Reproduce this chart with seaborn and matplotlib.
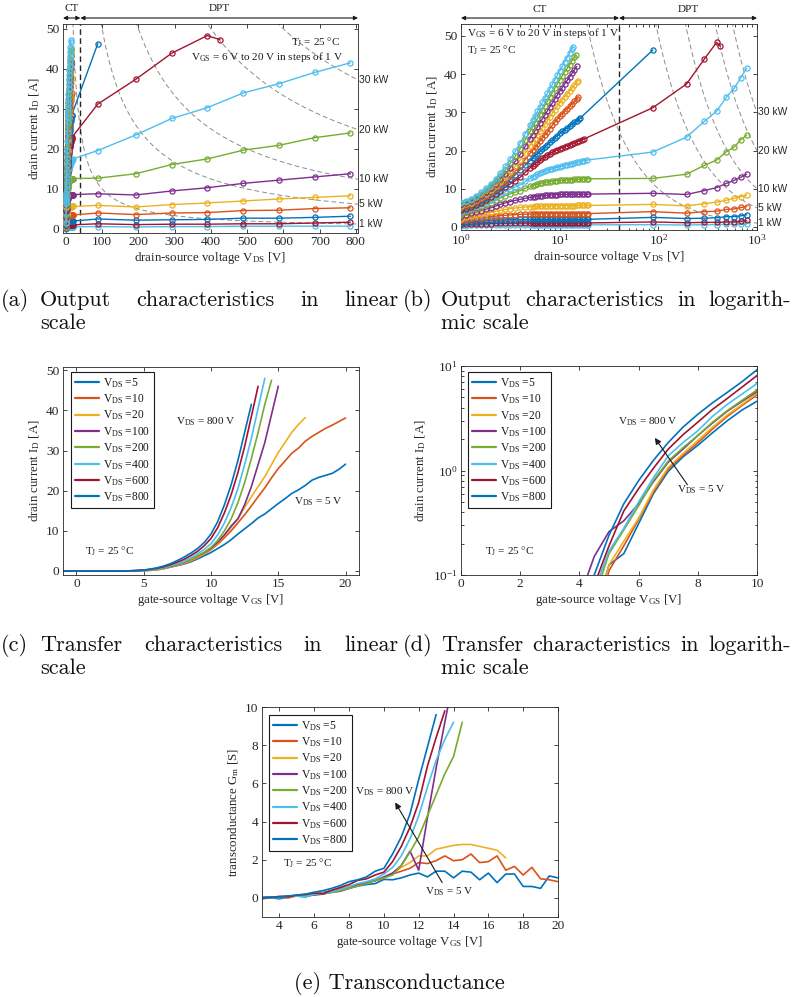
import numpy as np
import pandas as pd
import matplotlib
matplotlib.use("Agg")
import matplotlib.pyplot as plt
import matplotlib.transforms as mtransforms
from matplotlib.lines import Line2D
from matplotlib.ticker import MultipleLocator, LogLocator, NullFormatter, FixedLocator
import seaborn as sns

# MATLAB default colour order
BLUE, ORANGE, YELLOW, PURPLE, GREEN, CYAN, RED = (
    "#0072BD", "#D95319", "#EDB120", "#7E2F8E", "#77AC30", "#4DBEEE", "#A2142F")

# ---------------- output characteristics ----------------
vgs_levels = [6, 7, 8, 9, 10, 11, 12, 13, 14, 15, 16, 17, 18, 19, 20]
vgs_colors = [CYAN, RED, BLUE, ORANGE, YELLOW, PURPLE, GREEN,
              CYAN, RED, BLUE, ORANGE, YELLOW, PURPLE, GREEN, CYAN]

# curve-tracer (CT) sweep points in V; the last point of every curve is its own end voltage
ct_vds_grid = [0.2, 1.0, 1.12, 1.26, 1.41, 1.58, 1.78, 2.0, 2.24, 2.51, 2.82, 3.16, 3.55,
               3.98, 4.47, 5.01, 5.31, 5.62, 5.96, 6.31, 6.68, 7.08, 7.5, 7.94, 8.41, 8.91,
               9.44, 10.0, 10.6, 11.2, 11.9, 12.6, 13.3, 14.1, 14.9, 15.8, 16.8, 17.8, 18.8]
ct_end_vds = [19.5, 19.5, 19.5, 19.5, 19.5, 19.5, 19.5, 18.9, 17.6, 16.2, 15.5, 15.2,
              14.9, 14.6, 13.6]
ct_current = [
    [0.1, 0.35, 0.37, 0.4, 0.42, 0.44, 0.46, 0.48, 0.49, 0.5, 0.51, 0.52, 0.52, 0.53, 0.53,
     0.53, 0.53, 0.54, 0.54, 0.54, 0.54, 0.54, 0.54, 0.55, 0.55, 0.55, 0.55, 0.55, 0.55,
     0.55, 0.55, 0.55, 0.55, 0.55, 0.55, 0.55, 0.55, 0.55, 0.55, 0.55],
    [0.2, 0.65, 0.7, 0.74, 0.78, 0.82, 0.86, 0.9, 0.92, 0.94, 0.96, 0.98, 0.99, 1.0, 1.01,
     1.01, 1.01, 1.02, 1.02, 1.02, 1.02, 1.03, 1.03, 1.03, 1.03, 1.04, 1.04, 1.05, 1.05,
     1.05, 1.05, 1.05, 1.05, 1.05, 1.05, 1.05, 1.05, 1.05, 1.05, 1.05],
    [0.3, 1.1, 1.21, 1.32, 1.42, 1.52, 1.61, 1.7, 1.76, 1.81, 1.86, 1.9, 1.93, 1.95, 1.96,
     1.97, 1.97, 1.98, 1.98, 1.98, 1.98, 1.99, 1.99, 1.99, 2.0, 2.0, 2.0, 2.0, 2.0,
     2.0, 2.0, 2.0, 2.0, 2.0, 2.0, 2.0, 2.0, 2.0, 2.0, 2.0],
    [0.45, 1.7, 1.88, 2.05, 2.22, 2.39, 2.55, 2.7, 2.83, 2.95, 3.05, 3.14, 3.22, 3.3, 3.34,
     3.38, 3.4, 3.41, 3.42, 3.43, 3.44, 3.45, 3.46, 3.47, 3.48, 3.49, 3.5, 3.5, 3.5,
     3.5, 3.5, 3.5, 3.5, 3.5, 3.5, 3.5, 3.5, 3.5, 3.5, 3.5],
    [0.55, 2.2, 2.48, 2.76, 3.03, 3.29, 3.55, 3.8, 4.09, 4.35, 4.58, 4.78, 4.94, 5.1, 5.2,
     5.28, 5.32, 5.35, 5.38, 5.41, 5.44, 5.46, 5.48, 5.5, 5.53, 5.55, 5.58, 5.6, 5.6,
     5.6, 5.61, 5.61, 5.61, 5.61, 5.62, 5.62, 5.62, 5.62, 5.62, 5.62],
    [0.7, 2.8, 3.17, 3.55, 3.92, 4.28, 4.64, 5.0, 5.48, 5.92, 6.32, 6.65, 6.94, 7.2, 7.49,
     7.73, 7.84, 7.94, 8.03, 8.11, 8.18, 8.24, 8.29, 8.34, 8.39, 8.44, 8.47, 8.5, 8.51,
     8.52, 8.53, 8.54, 8.55, 8.56, 8.56, 8.57, 8.57, 8.58, 8.59, 8.6],
    [0.8, 3.4, 3.85, 4.32, 4.8, 5.27, 5.74, 6.2, 6.93, 7.59, 8.18, 8.68, 9.1, 9.5, 10.09,
     10.61, 10.83, 11.04, 11.22, 11.39, 11.53, 11.66, 11.77, 11.88, 11.98, 12.07, 12.14,
     12.2, 12.24, 12.28, 12.32, 12.36, 12.4, 12.43, 12.47, 12.5, 12.53, 12.55, 12.58, 12.6],
    [0.9, 4.0, 4.45, 4.95, 5.45, 5.95, 6.48, 7.0, 7.8, 8.55, 9.25, 9.9, 10.48, 11.0, 11.91,
     12.73, 13.1, 13.45, 13.77, 14.07, 14.35, 14.6, 14.82, 15.03, 15.25, 15.46, 15.64,
     15.8, 15.96, 16.11, 16.27, 16.42, 16.58, 16.73, 16.89, 17.04, 17.2, 17.35, 17.5],
    [1.0, 4.5, 4.76, 5.14, 5.64, 6.25, 6.96, 7.8, 8.67, 9.53, 10.4, 11.27, 12.13, 13.0, 14.28,
     15.48, 16.02, 16.53, 17.03, 17.5, 17.96, 18.4, 18.79, 19.15, 19.53, 19.9, 20.21,
     20.5, 20.76, 21.01, 21.27, 21.52, 21.78, 22.03, 22.29, 22.54, 22.78, 23.0],
    [1.1, 5.0, 5.28, 5.68, 6.21, 6.86, 7.61, 8.5, 9.35, 10.26, 11.3, 12.43, 13.67, 15.0, 16.19,
     17.38, 17.97, 18.56, 19.16, 19.75, 20.35, 20.94, 21.54, 22.13, 22.72, 23.31, 23.91,
     24.5, 24.98, 25.45, 25.93, 26.4, 26.88, 27.35, 27.83, 28.3, 28.5],
    [1.2, 5.3, 5.6, 6.02, 6.58, 7.26, 8.06, 9.0, 9.91, 10.89, 12.01, 13.24, 14.57, 16.0, 17.63,
     19.25, 20.07, 20.88, 21.69, 22.5, 23.32, 24.13, 24.94, 25.75, 26.57, 27.38, 28.19,
     29.0, 29.66, 30.32, 30.98, 31.63, 32.29, 32.95, 33.5, 34.0],
    [1.25, 5.6, 5.92, 6.38, 6.98, 7.72, 8.58, 9.6, 10.63, 11.73, 13.0, 14.38, 15.88, 17.5,
     19.38, 21.25, 22.19, 23.13, 24.07, 25.0, 25.94, 26.88, 27.82, 28.75, 29.69, 30.63,
     31.57, 32.5, 33.29, 34.07, 34.85, 35.63, 36.42, 37.2, 37.8, 38.2],
    [1.3, 5.9, 6.24, 6.74, 7.38, 8.18, 9.1, 10.2, 11.34, 12.58, 13.98, 15.52, 17.2, 19.0,
     21.06, 23.13, 24.16, 25.19, 26.22, 27.25, 28.28, 29.31, 30.35, 31.38, 32.41, 33.44,
     34.47, 35.5, 36.44, 37.38, 38.32, 39.26, 40.2, 41.14, 42.0],
    [1.4, 6.2, 6.57, 7.1, 7.79, 8.64, 9.63, 10.8, 12.06, 13.42, 14.97, 16.67, 18.51, 20.5,
     22.75, 25.0, 26.13, 27.25, 28.38, 29.5, 30.63, 31.75, 32.88, 34.0, 35.13, 36.25,
     37.38, 38.5, 39.5, 40.5, 41.5, 42.5, 43.45, 44.4, 45.0],
    [1.5, 6.5, 6.88, 7.43, 8.14, 9.02, 10.07, 11.28, 12.65, 14.19, 15.9, 17.77, 19.79, 22.0,
     24.35, 26.7, 27.88, 29.05, 30.23, 31.4, 32.58, 33.75, 34.93, 36.1, 37.28, 38.45,
     39.63, 40.8, 41.98, 43.15, 44.33, 45.5, 46.6, 47.1],
]

# double-pulse-test (DPT) points
dpt_grid = [88, 193, 292, 390, 490, 588, 686, 785]
dpt_vds = [dpt_grid] * 8 + [[88, 193, 292, 390, 425], [88], [], [], [], [], []]
dpt_current = [
    [0.6, 0.5, 0.6, 0.6, 0.7, 0.7, 0.7, 0.7],
    [1.3, 1.1, 1.2, 1.2, 1.3, 1.3, 1.5, 1.7],
    [2.5, 2.2, 2.3, 2.4, 2.7, 2.7, 2.9, 3.2],
    [4.0, 3.6, 4.0, 4.1, 4.6, 4.7, 5.1, 5.3],
    [5.9, 5.5, 6.1, 6.5, 7.0, 7.5, 7.9, 8.3],
    [8.8, 8.5, 9.5, 10.3, 11.4, 12.2, 13.0, 13.8],
    [12.7, 13.8, 16.1, 17.5, 19.7, 20.9, 22.8, 24.0],
    [19.6, 23.5, 27.6, 30.3, 34.0, 36.3, 39.1, 41.5],
    [31.2, 37.4, 43.9, 48.3, 47.3],
    [46.3],
    [], [], [], [], [],
]
power_levels_kw = [1, 5, 10, 20, 30]
ct_dpt_border = 40

# ---------------- transfer characteristics ----------------
vds_levels = [5, 10, 20, 100, 200, 400, 600, 800]
vds_colors = [BLUE, ORANGE, YELLOW, PURPLE, GREEN, CYAN, RED, BLUE]
transfer_vgs = [-1.0, -0.5, 0.0, 0.5, 1.0, 1.5, 2.0, 2.5, 3.0, 3.5, 4.0, 4.5, 5.0, 5.5,
                6.0, 6.5, 7.0, 7.5, 8.0, 8.5, 9.0, 9.5, 10.0, 10.5, 11.0, 11.5, 12.0,
                12.5, 13.0, 13.5, 14.0, 14.5, 15.0, 15.5, 16.0, 16.5, 17.0, 17.5, 18.0,
                18.5, 19.0, 19.5, 20.0]
off_state = [0.0] * 10
transfer_id = [
    off_state + [0.005, 0.04, 0.125, 0.16, 0.31, 0.6, 0.98, 1.35, 1.74, 2.3, 3.0, 3.8,
                 4.6, 5.6, 6.6, 7.8, 9.2, 10.5, 11.8, 13.2, 14.2, 15.5, 16.8, 18.0, 19.3,
                 20.2, 21.3, 22.6, 23.3, 23.8, 24.3, 25.3, 26.6],
    off_state + [0.005, 0.03, 0.11, 0.19, 0.34, 0.62, 1.03, 1.4, 1.84, 2.5, 3.3, 4.2,
                 5.3, 6.7, 8.3, 10.0, 12.0, 14.0, 16.2, 18.5, 20.7, 23.2, 25.5, 27.4,
                 29.3, 30.6, 32.3, 33.5, 34.5, 35.5, 36.3, 37.2, 38.1],
    off_state + [0.006, 0.035, 0.125, 0.21, 0.35, 0.65, 1.07, 1.45, 1.94, 2.6, 3.4, 4.3,
                 5.5, 7.0, 8.8, 10.8, 13.0, 15.8, 18.5, 21.0, 23.5, 26.5, 29.5, 32.0,
                 34.5, 36.5, 38.2],
    off_state + [0.06, 0.15, 0.26, 0.33, 0.48, 0.78, 1.2, 1.6, 2.16, 2.85, 3.7, 4.6,
                 5.7, 7.2, 9.0, 11.2, 13.0, 16.5, 21.0, 26.5, 32.0, 39.0, 46.0],
    off_state + [0.012, 0.06, 0.16, 0.27, 0.46, 0.8, 1.23, 1.65, 2.16, 2.9, 3.75, 4.7,
                 5.9, 7.6, 10.0, 13.0, 17.0, 22.0, 28.0, 34.5, 41.5, 47.5],
    off_state + [0.015, 0.07, 0.17, 0.28, 0.5, 0.85, 1.38, 1.85, 2.4, 3.3, 4.3, 5.4,
                 6.8, 9.0, 12.0, 15.8, 20.5, 26.5, 33.0, 40.5, 48.0],
    off_state + [0.03, 0.08, 0.19, 0.41, 0.67, 1.05, 1.6, 2.2, 2.9, 3.85, 4.9, 6.3,
                 8.1, 10.8, 14.5, 19.0, 24.5, 31.0, 38.5, 46.0],
    off_state + [0.04, 0.1, 0.24, 0.48, 0.8, 1.25, 1.85, 2.6, 3.45, 4.45, 5.6, 7.1,
                 9.2, 12.3, 16.5, 21.5, 27.5, 34.5, 41.5],
]

# ---------------- transconductance ----------------
gm_vgs = [3.0, 3.5, 4.0, 4.5, 5.0, 5.5, 6.0, 6.5, 7.0, 7.5, 8.0, 8.5, 9.0, 9.5, 10.0,
          10.5, 11.0, 11.5, 12.0, 12.5, 13.0, 13.5, 14.0, 14.5, 15.0, 15.5, 16.0, 16.5,
          17.0, 17.5, 18.0, 18.5, 19.0, 19.5, 20.0]
gm_values = [
    [-0.05, 0.02, -0.05, 0.05, 0.1, 0.05, 0.2, 0.28, 0.38, 0.45, 0.5, 0.62, 0.7, 0.75,
     0.97, 0.95, 1.05, 1.2, 1.3, 1.1, 1.4, 1.4, 1.05, 1.4, 1.35, 0.95, 1.3, 0.8, 1.25,
     1.25, 0.6, 0.6, 0.5, 1.15, 1.05],
    [0.0, 0.02, 0.05, 0.0, 0.12, 0.15, 0.2, 0.22, 0.35, 0.5, 0.58, 0.68, 0.8, 0.9,
     1.05, 1.25, 1.4, 1.55, 1.85, 1.8, 1.95, 2.2, 1.95, 2.0, 2.3, 1.85, 1.9, 2.2, 1.45,
     1.65, 1.2, 1.6, 1.0, 0.95, 0.85],
    [0.0, 0.03, 0.02, 0.05, 0.1, 0.12, 0.18, 0.25, 0.3, 0.42, 0.55, 0.65, 0.82, 0.95,
     1.05, 1.3, 1.6, 1.85, 2.2, 2.2, 2.55, 2.65, 2.75, 2.8, 2.8, 2.7, 2.6, 2.5, 2.1],
    [0.02, 0.05, 0.06, 0.1, 0.12, 0.1, 0.15, 0.2, 0.3, 0.35, 0.5, 0.7, 0.8, 0.9,
     1.1, 1.3, 1.7, 2.45, 1.45, 4.2, 6.8, 9.2, 11.5],
    [0.0, 0.03, 0.05, 0.08, 0.1, 0.12, 0.18, 0.22, 0.28, 0.38, 0.5, 0.62, 0.75, 0.9,
     1.05, 1.2, 1.7, 2.4, 3.2, 4.3, 5.4, 6.5, 7.4, 9.2],
    [0.0, 0.05, 0.03, 0.08, 0.1, 0.05, 0.2, 0.25, 0.32, 0.45, 0.6, 0.75, 0.85, 1.0,
     1.25, 1.6, 2.2, 3.1, 4.3, 5.8, 7.2, 8.3, 9.2],
    [0.0, 0.02, 0.08, 0.05, 0.15, 0.18, 0.25, 0.22, 0.4, 0.55, 0.7, 0.92, 1.0, 1.2,
     1.35, 1.9, 2.7, 3.7, 5.0, 6.9, 8.4, 9.8],
    [0.02, 0.04, 0.05, 0.1, 0.15, 0.2, 0.3, 0.38, 0.5, 0.65, 0.85, 0.95, 1.1, 1.4,
     1.55, 2.3, 3.2, 4.4, 6.2, 7.9, 9.6],
]

# ---------------- style ----------------
sns.set_theme(style="ticks")
SERIF = ["Liberation Serif", "DejaVu Serif"]
plt.rcParams["font.family"] = SERIF
plt.rcParams.update({
    "mathtext.default": "regular",
    "axes.edgecolor": "#262626",
    "axes.linewidth": 0.6,
    "axes.labelcolor": "#262626",
    "axes.labelsize": 9.3,
    "xtick.color": "#262626",
    "ytick.color": "#262626",
    "text.color": "#1a1a1a",
})
DARK = "#262626"
TICK_SIZE = 9.6
NOTE_SIZE = 8.0
W, H = 799, 997
fig = plt.figure(figsize=(W / 100, H / 100), dpi=100)


def px_axes(left, top, right, bottom):
    return fig.add_axes([left / W, 1 - bottom / H, (right - left) / W, (bottom - top) / H])


def style_axes(ax):
    ax.tick_params(which="both", direction="in", top=True, right=True,
                   labelsize=TICK_SIZE, pad=2.5, colors=DARK, width=0.6)
    ax.tick_params(which="major", length=3.2)
    ax.tick_params(which="minor", length=1.8)
    for s in ax.spines.values():
        s.set_visible(True)
        s.set_linewidth(0.6)
        s.set_color(DARK)


def output_panel(ax, xmax):
    # constant-power hyperbolas
    for p in power_levels_kw:
        v = np.geomspace(p * 1000 / 60, xmax * 1.05, 400)
        ax.plot(v, p * 1000 / v, color="0.55", lw=0.7, dashes=(5, 3), zorder=1)
        ax.text(1.004, p * 1000 / xmax, f"{p} kW", family=["Liberation Sans", "DejaVu Sans"],
                fontsize=7.4, color=DARK, ha="left", va="center",
                transform=mtransforms.blended_transform_factory(ax.transAxes, ax.transData),
                clip_on=False)
    ax.axvline(ct_dpt_border, color=DARK, lw=1.0, dashes=(4, 2.5), zorder=2)
    for k in range(len(vgs_levels)):
        cur = ct_current[k]
        v = ct_vds_grid[:len(cur) - 1] + [ct_end_vds[k]] + list(dpt_vds[k])
        i = cur + dpt_current[k]
        c = vgs_colors[k]
        sns.lineplot(x=v, y=i, ax=ax, color=c, linewidth=1.0, marker="o", markersize=3.7,
                     markerfacecolor="none", markeredgecolor=c, markeredgewidth=0.9,
                     sort=False, estimator=None, errorbar=None, zorder=3)


def ct_dpt_arrows(ax, x0, x1, y_arrow, y_text):
    tr = ax.get_xaxis_transform()
    for a, b, lab in [(x0, ct_dpt_border, "CT"), (ct_dpt_border, x1, "DPT")]:
        ax.annotate("", xy=(a, y_arrow), xytext=(b, y_arrow), xycoords=tr, textcoords=tr,
                    arrowprops=dict(arrowstyle="<|-|>", color="k", lw=0.8, mutation_scale=6,
                                    shrinkA=0, shrinkB=0), annotation_clip=False)
        xm = np.sqrt(a * b) if ax.get_xscale() == "log" else (a + b) / 2
        ax.text(xm, y_text, lab, transform=tr, ha="center", va="center", fontsize=NOTE_SIZE)


# ---- (a) linear output characteristics ----
ax_a = px_axes(63, 24, 358, 233)
output_panel(ax_a, 806)
ax_a.set_xlim(-8, 806)
ax_a.set_ylim(-1, 51.2)
ax_a.xaxis.set_major_locator(MultipleLocator(100))
ax_a.yaxis.set_major_locator(MultipleLocator(10))
ax_a.set_xlabel("drain-source voltage V$_{DS}$ [V]", labelpad=1)
ax_a.set_ylabel("drain current I$_{D}$ [A]", labelpad=3)
ax_a.text(756, 46.6, "T$_{J}$ = 25 °C", ha="right", va="center", fontsize=NOTE_SIZE)
ax_a.text(765, 42.9, "V$_{GS}$ = 6 V to 20 V in steps of 1 V", ha="right", va="center",
          fontsize=NOTE_SIZE)
style_axes(ax_a)
ct_dpt_arrows(ax_a, -8, 806, 1.0287, 1.0718)

# ---- (b) logarithmic output characteristics ----
ax_b = px_axes(461, 24, 757, 230)
output_panel(ax_b, 1000)
ax_b.set_xscale("log")
ax_b.set_xlim(1, 1000)
ax_b.set_ylim(-0.8, 53.1)
ax_b.yaxis.set_major_locator(MultipleLocator(10))
ax_b.xaxis.set_major_locator(LogLocator(base=10, numticks=10))
ax_b.xaxis.set_minor_locator(LogLocator(base=10, subs=np.arange(2, 10), numticks=20))
ax_b.xaxis.set_minor_formatter(NullFormatter())
ax_b.set_xlabel("drain-source voltage V$_{DS}$ [V]", labelpad=1)
ax_b.set_ylabel("drain current I$_{D}$ [A]", labelpad=3)
ax_b.text(1.14, 50.7, "V$_{GS}$ = 6 V to 20 V in steps of 1 V", ha="left", va="center",
          fontsize=NOTE_SIZE)
ax_b.text(1.14, 46.3, "T$_{J}$ = 25 °C", ha="left", va="center", fontsize=NOTE_SIZE)
style_axes(ax_b)
ct_dpt_arrows(ax_b, 1, 1000, 1.029, 1.0728)

# long-form tables for the VGS sweeps
rows = []
for vds, ids in zip(vds_levels, transfer_id):
    for vg, i in zip(transfer_vgs, ids):
        rows.append((vds, vg, i))
transfer_df = pd.DataFrame(rows, columns=["VDS", "VGS", "ID"])
rows = []
for vds, g in zip(vds_levels, gm_values):
    for vg, val in zip(gm_vgs, g):
        rows.append((vds, vg, val))
gm_df = pd.DataFrame(rows, columns=["VDS", "VGS", "Gm"])
palette = {v: c for v, c in zip(vds_levels, vds_colors)}


def sweep_panel(ax, df, ycol, anchor):
    sns.lineplot(data=df, x="VGS", y=ycol, hue="VDS", hue_order=vds_levels, palette=palette,
                 linewidth=1.2, sort=False, estimator=None, errorbar=None, legend=False, ax=ax)
    handles = [Line2D([], [], color=c, lw=1.6) for c in vds_colors]
    labels = [f"V$_{{DS}}$ ={v}" for v in vds_levels]
    leg = ax.legend(handles, labels, loc="upper left", bbox_to_anchor=anchor,
                    borderaxespad=0, frameon=True, fancybox=False, fontsize=8.3,
                    handlelength=2.05, handletextpad=0.35, labelspacing=0.22,
                    borderpad=0.35)
    leg.get_frame().set_edgecolor("k")
    leg.get_frame().set_linewidth(0.8)
    leg.get_frame().set_alpha(1)


# ---- (c) linear transfer characteristics ----
ax_c = px_axes(63, 367, 359, 575)
sweep_panel(ax_c, transfer_df, "ID", (0.027, 0.976))
ax_c.set_xlim(-1, 21)
ax_c.set_ylim(-1, 50.8)
ax_c.xaxis.set_major_locator(MultipleLocator(5))
ax_c.yaxis.set_major_locator(MultipleLocator(10))
ax_c.set_xlabel("gate-source voltage V$_{GS}$ [V]", labelpad=1)
ax_c.set_ylabel("drain current I$_{D}$ [A]", labelpad=3)
ax_c.text(7.41, 37.1, "V$_{DS}$ = 800 V", ha="left", va="center", fontsize=NOTE_SIZE)
ax_c.text(16.2, 17.2, "V$_{DS}$ = 5 V", ha="left", va="center", fontsize=NOTE_SIZE)
ax_c.text(0.67, 4.8, "T$_{J}$ = 25 °C", ha="left", va="center", fontsize=NOTE_SIZE)
style_axes(ax_c)

# ---- (d) logarithmic transfer characteristics ----
ax_d = px_axes(461, 366, 757, 575)
sweep_panel(ax_d, transfer_df, "ID", (0.024, 0.971))
ax_d.set_yscale("log", nonpositive="mask")
ax_d.set_xlim(0, 10)
ax_d.set_ylim(0.1, 10)
ax_d.xaxis.set_major_locator(MultipleLocator(2))
ax_d.yaxis.set_major_locator(LogLocator(base=10, numticks=10))
ax_d.yaxis.set_minor_locator(LogLocator(base=10, subs=np.arange(2, 10), numticks=20))
ax_d.yaxis.set_minor_formatter(NullFormatter())
ax_d.set_xlabel("gate-source voltage V$_{GS}$ [V]", labelpad=1)
ax_d.set_ylabel("drain current I$_{D}$ [A]", labelpad=3)
ax_d.annotate("", xy=(6.55, 2.05), xytext=(7.65, 0.73),
              arrowprops=dict(arrowstyle="-|>", color="k", lw=0.8, mutation_scale=9,
                              shrinkA=0, shrinkB=0))
ax_d.text(5.31, 2.93, "V$_{DS}$ = 800 V", ha="left", va="center", fontsize=NOTE_SIZE)
ax_d.text(7.29, 0.65, "V$_{DS}$ = 5 V", ha="left", va="center", fontsize=NOTE_SIZE)
ax_d.text(0.81, 0.167, "T$_{J}$ = 25 °C", ha="left", va="center", fontsize=NOTE_SIZE)
style_axes(ax_d)

# ---- (e) transconductance ----
ax_e = px_axes(262, 707, 558, 917)
sweep_panel(ax_e, gm_df, "Gm", (0.024, 0.962))
ax_e.set_xlim(3, 20)
ax_e.set_ylim(-1, 10)
ax_e.xaxis.set_major_locator(FixedLocator([4, 6, 8, 10, 12, 14, 16, 18, 20]))
ax_e.yaxis.set_major_locator(MultipleLocator(2))
ax_e.set_xlabel("gate-source voltage V$_{GS}$ [V]", labelpad=1)
ax_e.set_ylabel("transconductance G$_{m}$ [S]", labelpad=3)
ax_e.annotate("", xy=(10.65, 5.0), xytext=(13.35, 0.8),
              arrowprops=dict(arrowstyle="-|>", color="k", lw=0.8, mutation_scale=9,
                              shrinkA=0, shrinkB=0))
ax_e.text(8.34, 5.56, "V$_{DS}$ = 800 V", ha="left", va="center", fontsize=NOTE_SIZE)
ax_e.text(12.36, 0.32, "V$_{DS}$ = 5 V", ha="left", va="center", fontsize=NOTE_SIZE)
ax_e.text(4.22, 1.81, "T$_{J}$ = 25 °C", ha="left", va="center", fontsize=NOTE_SIZE)
style_axes(ax_e)

# ---------------- sub-captions ----------------
CAP_FONT = "cmr10"
CAP_SIZE = 16.0
renderer = fig.canvas.get_renderer()


def cap_text(x_px, y_px, s, ha="left"):
    return fig.text(x_px / W, 1 - y_px / H, s, family=CAP_FONT, fontsize=CAP_SIZE,
                    ha=ha, va="baseline", color="#111111")


def justified(words, x_left, x_right, y_px):
    texts = [cap_text(0, y_px, w) for w in words]
    widths = [t.get_window_extent(renderer).width for t in texts]
    gap = (x_right - x_left - sum(widths)) / (len(words) - 1)
    x = x_left
    for t, w in zip(texts, widths):
        t.set_x(x / W)
        x += w + gap


for (tag, first, rest, second, x0, xs, xe, y) in [
        ("(a)", "Output", ["characteristics", "in", "linear"], "scale", 1, 40, 398, 306),
        ("(b)", "Output", ["characteristics", "in", "logarith-"], "mic scale", 403, 441, 791, 306),
        ("(c)", "Transfer", ["characteristics", "in", "linear"], "scale", 1, 40, 398, 651),
        ("(d)", "Transfer", ["characteristics", "in", "logarith-"], "mic scale", 403, 441, 791, 651)]:
    cap_text(x0, y, tag)
    justified([first] + rest, xs, xe, y)
    cap_text(xs, y + 23, second)

cap_text(399, 989, "(e) Transconductance", ha="center")

fig.savefig("out.png", dpi=100)
